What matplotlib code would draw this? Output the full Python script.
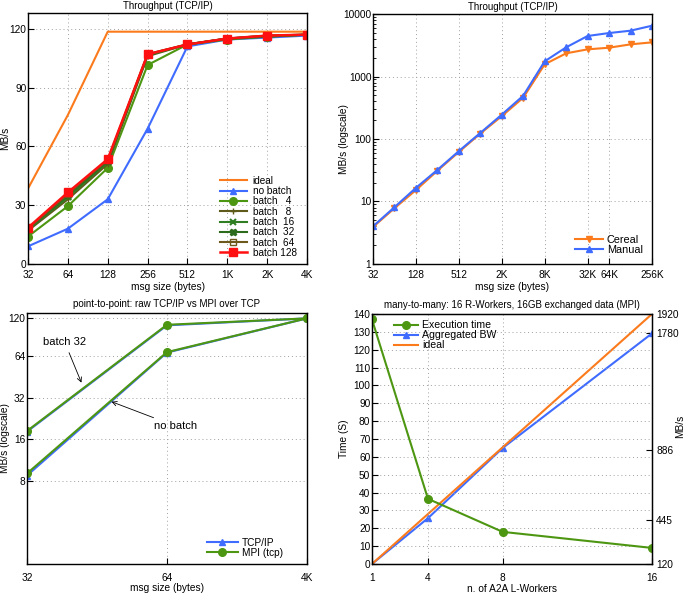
import numpy as np
import matplotlib
matplotlib.use('Agg')
import matplotlib.pyplot as plt
from matplotlib.ticker import LogLocator, NullFormatter

plt.rcParams['font.family'] = ['Liberation Sans', 'DejaVu Sans']
plt.rcParams['font.size'] = 7.3

# ---------------------------------------------------------------- data
# panel 1: throughput TCP/IP (batching)
p1_sizes = ['32', '64', '128', '256', '512', '1K', '2K', '4K']
p1_ideal = [38.5, 76, 118.5, 118.5, 118.5, 118.5, 118.5, 118.5]
p1_nobatch = [9, 18, 33, 69, 111, 114.5, 115.5, 116.5]
p1_b4 = [14, 29.5, 49, 101.5, 112, 114.5, 116, 117]
p1_b8 = [17, 33, 51, 106, 112, 115, 116, 117]
p1_b16 = [17.5, 34, 52, 106.5, 112, 115, 116, 117]
p1_b32 = [18, 35, 52.5, 107, 112, 115, 116.5, 117]
p1_b64 = [18, 35.5, 53, 107, 112, 115, 116.5, 117]
p1_b128 = [18.5, 36.5, 53.5, 107, 112, 115, 116.5, 117]

# panel 2: Cereal vs Manual serialization
p2_sizes = [2 ** k for k in range(5, 19)]
p2_cereal = [3.9, 7.8, 15.2, 31, 62, 122, 232, 458, 1566, 2350, 2720, 2890, 3270, 3520]
p2_manual = [4.0, 8.1, 16.5, 32, 64, 125, 245, 493, 1750, 2930, 4450, 4960, 5410, 6500]
p2_ticks = [32, 128, 512, 2048, 8192, 32768, 65536, 262144]
p2_ticklabels = ['32', '128', '512', '2K', '8K', '32K', '64K', '256K']

# panel 3: raw TCP/IP vs MPI over TCP
p3_sizes = ['32', '64', '4K']
p3_tcp_batch = [18.2, 106, 119]
p3_tcp_nobatch = [8.8, 67.5, 119]
p3_mpi_batch = [18.4, 107, 119]
p3_mpi_nobatch = [9.1, 68, 119]
p3_ticks = [8, 16, 32, 64, 120]

# panel 4: many-to-many
p4_workers = [1, 4, 8, 16]
p4_time = [137, 36.5, 18, 9]
p4_bw = [120, 450, 955, 1780]
p4_ideal = [120, 1920]
p4_ideal_x = [1, 16]
p4_right_pos = [120, 437, 938, 1780, 1920]
p4_right_labels = ['120', '445', '886', '1780', '1920']

ORANGE = '#fb7a1c'
BLUE = '#3f6cff'
GREEN = '#4d9612'
RED = '#ff1010'
TITLE_FS = 7


def style(ax, xpad=4):
    ax.tick_params(direction='in', length=4, width=0.8)
    ax.tick_params(axis='y', pad=1.2)
    ax.tick_params(axis='x', pad=xpad)
    ax.grid(True, linestyle=(0, (1, 3)), color='#a0a0a0', linewidth=0.7)
    for s in ax.spines.values():
        s.set_linewidth(1.0)


fig = plt.figure(figsize=(6.85, 5.94), dpi=100)

# ---------------------------------------------------------------- panel 1
ax1 = fig.add_axes([0.0409, 0.5556, 0.4073, 0.4224])
x1 = np.arange(len(p1_sizes))
ax1.plot(x1, p1_ideal, color=ORANGE, lw=1.5, label='ideal')
ax1.plot(x1, p1_nobatch, color=BLUE, lw=1.5, marker='^', ms=5, label='no batch')
ax1.plot(x1, p1_b4, color=GREEN, lw=1.5, marker='o', ms=5.5, label='batch   4')
ax1.plot(x1, p1_b8, color='#5e5a1a', lw=1.5, marker='+', ms=5, label='batch   8')
ax1.plot(x1, p1_b16, color='#2f7f22', lw=1.5, marker='x', ms=4.5, mew=1.5, label='batch  16')
ax1.plot(x1, p1_b32, color='#2c6a1c', lw=1.5, marker='X', ms=5, label='batch  32')
ax1.plot(x1, p1_b64, color='#6b5a1c', lw=1.5, marker='s', ms=5, mfc='none', label='batch  64')
ax1.plot(x1, p1_b128, color=RED, lw=1.8, marker='s', ms=6, label='batch 128')
ax1.set_xlim(0, 7)
ax1.set_ylim(0, 128)
ax1.set_xticks(x1)
ax1.set_xticklabels(p1_sizes)
ax1.set_yticks([0, 30, 60, 90, 120])
ax1.set_xlabel('msg size (bytes)', labelpad=2)
ax1.set_ylabel('MB/s')
ax1.yaxis.set_label_coords(-0.064, 0.5)
ax1.set_title('Throughput (TCP/IP)', pad=3, fontsize=TITLE_FS)
style(ax1)
ax1.legend(loc='lower right', bbox_to_anchor=(0.985, 0.0), frameon=False, fontsize=7.2,
           handlelength=2.7, labelspacing=0.03, borderaxespad=0.2, handletextpad=0.6)

# ---------------------------------------------------------------- panel 2
ax2 = fig.add_axes([0.5445, 0.5556, 0.4073, 0.4208])
ax2.plot(p2_sizes, p2_cereal, color=ORANGE, lw=1.5, marker='v', ms=5, label='Cereal')
ax2.plot(p2_sizes, p2_manual, color=BLUE, lw=1.5, marker='^', ms=5, label='Manual')
ax2.set_xscale('log', base=2)
ax2.set_yscale('log')
ax2.set_xlim(32, 262144)
ax2.set_ylim(1, 10000)
ax2.set_xticks(p2_ticks)
ax2.set_xticklabels(p2_ticklabels)
ax2.xaxis.set_minor_locator(plt.NullLocator())
ax2.yaxis.set_minor_locator(LogLocator(base=10, subs=np.arange(2, 10)))
ax2.yaxis.set_minor_formatter(NullFormatter())
ax2.set_yticks([1, 10, 100, 1000, 10000])
ax2.set_yticklabels(['1', '10', '100', '1000', '10000'])
ax2.set_xlabel('msg size (bytes)', labelpad=2)
ax2.set_ylabel('MB/s (logscale)')
ax2.yaxis.set_label_coords(-0.086, 0.5)
ax2.set_title('Throughput (TCP/IP)', pad=3, fontsize=TITLE_FS)
style(ax2)
ax2.tick_params(axis='y', which='minor', direction='in', length=2, width=0.6)
ax2.legend(loc='lower right', bbox_to_anchor=(0.99, 0.01), frameon=False, fontsize=7.8,
           handlelength=2.6, labelspacing=0.0, borderaxespad=0.2, handletextpad=0.3)

# ---------------------------------------------------------------- panel 3
ax3 = fig.add_axes([0.0394, 0.0505, 0.4086, 0.4225])
x3 = np.arange(len(p3_sizes))
ax3.plot(x3, p3_tcp_batch, color=BLUE, lw=1.5, marker='^', ms=5, label='TCP/IP')
ax3.plot(x3, p3_tcp_nobatch, color=BLUE, lw=1.5, marker='^', ms=5)
ax3.plot(x3, p3_mpi_batch, color=GREEN, lw=1.5, marker='o', ms=5.5, label='MPI (tcp)')
ax3.plot(x3, p3_mpi_nobatch, color=GREEN, lw=1.5, marker='o', ms=5.5)
ax3.set_yscale('log', base=2)
ax3.set_xlim(0, 2)
ax3.set_ylim(2.03, 130)
ax3.set_xticks(x3)
ax3.set_xticklabels(p3_sizes)
ax3.minorticks_off()
ax3.set_yticks(p3_ticks)
ax3.set_yticklabels([str(t) for t in p3_ticks])
ax3.set_xlabel('msg size (bytes)', labelpad=0)
ax3.set_ylabel('MB/s (logscale)')
ax3.yaxis.set_label_coords(-0.061, 0.5)
ax3.set_title('point-to-point: raw TCP/IP vs MPI over TCP', pad=4, fontsize=TITLE_FS)
style(ax3, xpad=6.5)
ax3.annotate('batch 32', xy=(0.389, 41), xytext=(0.27, 80), fontsize=8,
             ha='center', va='center',
             arrowprops=dict(arrowstyle='->', color='black', lw=0.6, shrinkA=2, shrinkB=0))
ax3.annotate('no batch', xy=(0.604, 29.9), xytext=(1.06, 20), fontsize=8,
             ha='center', va='center',
             arrowprops=dict(arrowstyle='->', color='black', lw=0.6, shrinkA=1, shrinkB=0))
ax3.legend(loc='lower right', bbox_to_anchor=(0.935, 0.0), frameon=False, fontsize=7.3,
           handlelength=3.0, labelspacing=0.0, borderaxespad=0.2, handletextpad=0.4)

# ---------------------------------------------------------------- panel 4
ax4 = fig.add_axes([0.543, 0.0505, 0.4088, 0.4209])
ax4r = ax4.twinx()
l1, = ax4.plot(p4_workers, p4_time, color=GREEN, lw=1.5, marker='o', ms=5.5, label='Execution time')
l2, = ax4r.plot(p4_workers, p4_bw, color=BLUE, lw=1.5, marker='^', ms=5, label='Aggregated BW')
l3, = ax4r.plot(p4_ideal_x, p4_ideal, color=ORANGE, lw=1.5, label='ideal')
ax4.set_xlim(1, 16)
ax4.set_ylim(0, 140)
ax4r.set_ylim(120, 1920)
ax4.set_xticks(p4_workers)
ax4.set_yticks(np.arange(0, 141, 10))
ax4r.set_yticks(p4_right_pos)
ax4r.set_yticklabels(p4_right_labels)
ax4.set_xlabel('n. of A2A L-Workers', labelpad=1)
ax4.set_ylabel('Time (S)')
ax4.yaxis.set_label_coords(-0.082, 0.5)
ax4r.set_ylabel('MB/s')
ax4r.yaxis.set_label_coords(1.082, 0.55)
ax4.set_title('many-to-many: 16 R-Workers, 16GB exchanged data (MPI)', pad=4, fontsize=TITLE_FS)
style(ax4, xpad=6.5)
ax4r.tick_params(direction='in', length=4, width=0.8, pad=3)
ax4.set_zorder(ax4r.get_zorder() + 1)
ax4.patch.set_visible(False)
ax4.legend(handles=[l1, l2, l3], loc='upper left', bbox_to_anchor=(0.055, 1.0), frameon=False,
           fontsize=7.6, handlelength=2.3, labelspacing=0.0, borderaxespad=0.2,
           handletextpad=0.4)

fig.savefig('out.png', dpi=100)
